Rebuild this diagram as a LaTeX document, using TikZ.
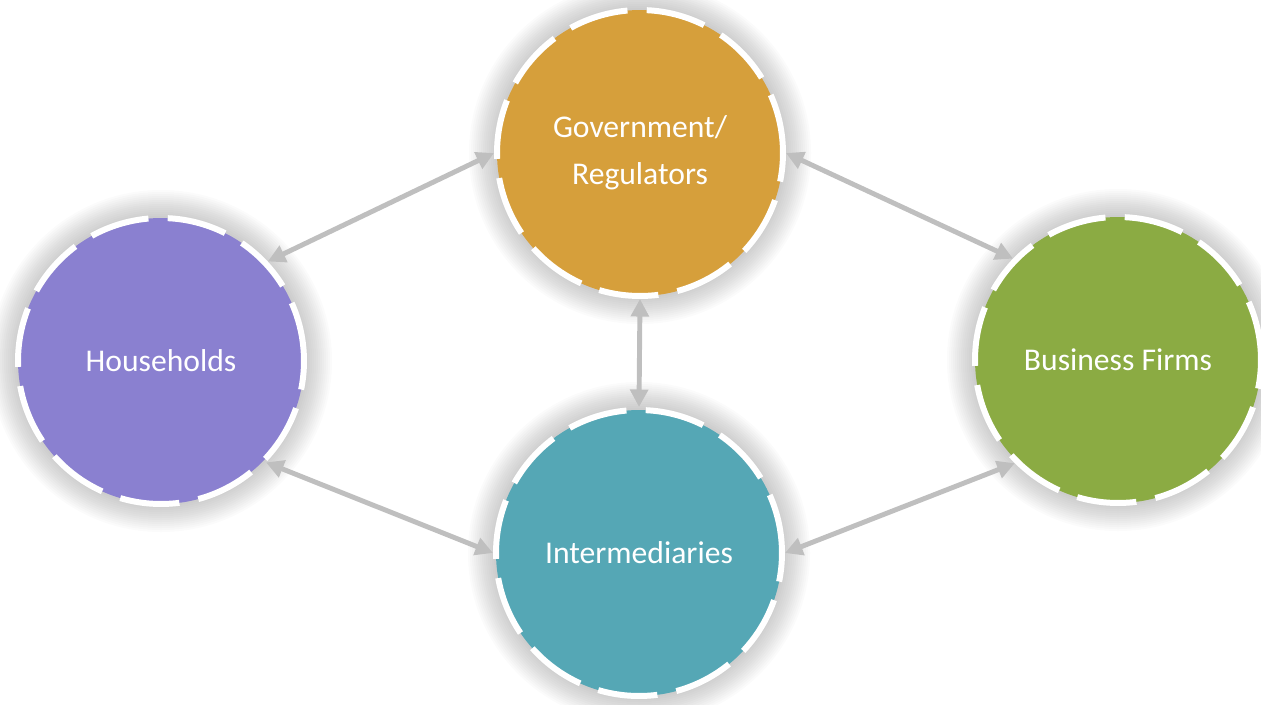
\documentclass[tikz,border=0pt]{standalone}
\usepackage{fontspec}
\setmainfont{Carlito}
\usepackage{tikz}
\usetikzlibrary{arrows.meta}

\definecolor{hhpurple}{HTML}{8A80D0}
\definecolor{govgold}{HTML}{D69F3B}
\definecolor{firmgreen}{HTML}{8BAB43}
\definecolor{intteal}{HTML}{55A7B5}
\definecolor{linkgray}{HTML}{BFBFBF}

\tikzset{
    sector/.style = {draw = white, circle, line width = 3.4pt,
        dash pattern = on 34pt off 11pt, minimum size = 5.72cm,
        inner sep = 0pt, text = white, font = \fontsize{18}{26.5}\selectfont,
        align = center},
    link/.style = {draw = linkgray, line width = 2.8pt,
        {Triangle[length = 10pt, width = 10pt]}-{Triangle[length = 10pt, width = 10pt]}}
}

\begin{document}
\begin{tikzpicture}[x = 0.02cm, y = -0.02cm]
        \useasboundingbox (0,0) rectangle (1261,704);
        % soft glow behind the circles
        \foreach \cx/\cy in {161/361, 640/153, 1118/360, 639/553} {
            \foreach \r in {145,147,...,171} {
                \fill [black, opacity = 0.014] (\cx,\cy) circle [radius = \r];
            }
        }
        \node [sector, fill = hhpurple] (hh) at (161,361) {Households};
        \node [sector, fill = govgold] (gov) at (640,153)
        {Government/\\Regulators};
        \node [sector, fill = firmgreen] (firms) at (1118,360)
        {Business Firms};
        \node [sector, fill = intteal] (inter) at (639,553) {Intermediaries};
        \draw [link] (hh.43) -- (gov.west);
        \draw [link] (gov.east) -- (firms.136);
        \draw [link] (gov.south) -- (inter.north);
        \draw [link] (hh.-44) -- (inter.west);
        \draw [link] (inter.east) -- (firms.-135);
    \end{tikzpicture}
\end{document}
